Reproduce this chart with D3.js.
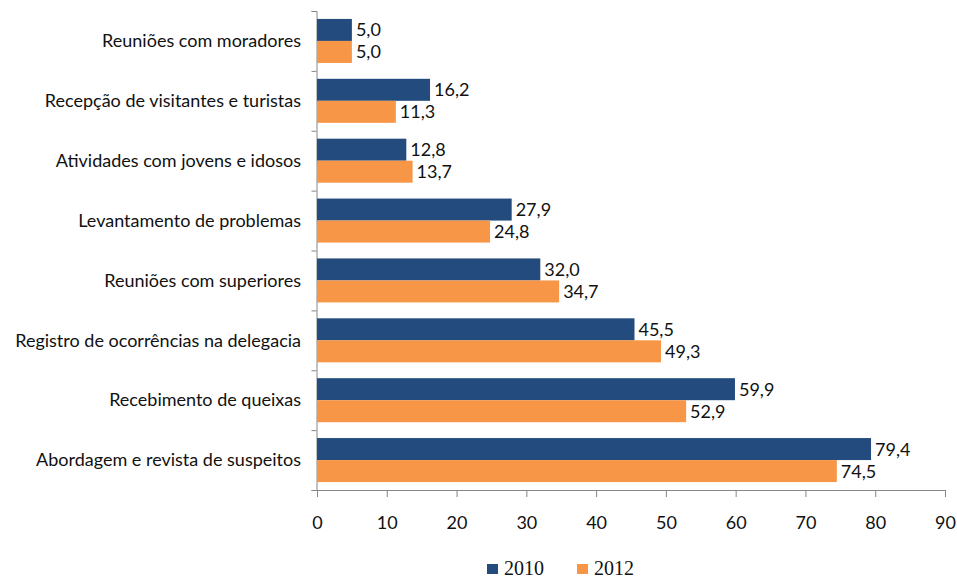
<!DOCTYPE html>
<html>
<head>
<meta charset="utf-8">
<script src="https://cdn.jsdelivr.net/npm/d3@7"></script>
<style>
  body { margin: 0; background: #fff; }
  svg text { font-family: Lato, "Open Sans", sans-serif; }
</style>
</head>
<body>
<div id="chart"></div>
<script>
// categories from top to bottom
const categories = [
  'Reuniões com moradores',
  'Recepção de visitantes e turistas',
  'Atividades com jovens e idosos',
  'Levantamento de problemas',
  'Reuniões com superiores',
  'Registro de ocorrências na delegacia',
  'Recebimento de queixas',
  'Abordagem e revista de suspeitos'
]
const series = ['2010', '2012']
const values2010 = [5.0, 16.2, 12.8, 27.9, 32.0, 45.5, 59.9, 79.4]
const values2012 = [5.0, 11.3, 13.7, 24.8, 34.7, 49.3, 52.9, 74.5]
const xTicks = [0, 10, 20, 30, 40, 50, 60, 70, 80, 90]

const colors = { '2010': '#234B7E', '2012': '#F79646' }

const width = 957
const height = 578
const margin = { left: 317, top: 11, right: 12, bottom: 88 }

const svg = d3.select('#chart').append('svg')
  .attr('width', width)
  .attr('height', height)

const x = d3.scaleLinear()
  .domain([0, 90])
  .range([margin.left, width - margin.right])

const y = d3.scaleBand()
  .domain(categories)
  .range([margin.top, height - margin.bottom])
  .paddingInner(0.265)
  .paddingOuter(0.1325)

const ySub = d3.scaleBand()
  .domain(series)
  .range([0, y.bandwidth()])

// y axis with ticks between categories
const yTickScale = d3.scaleLinear()
  .domain([0, categories.length])
  .range([margin.top, height - margin.bottom])

const yAxis = svg.append('g')
  .attr('transform', `translate(${margin.left - 0.5}, 0)`)
  .call(d3.axisLeft(yTickScale).ticks(categories.length).tickSize(5).tickFormat(''))
yAxis.select('.domain').attr('stroke', '#868686')
yAxis.selectAll('.tick line').attr('stroke', '#868686')

// category labels
svg.append('g')
  .selectAll('text')
  .data(categories)
  .join('text')
  .attr('x', 301)
  .attr('y', d => y(d) + y.bandwidth() / 2)
  .attr('dy', '0.35em')
  .attr('text-anchor', 'end')
  .attr('font-size', 18)
  .attr('fill', '#111')
  .text(d => d)

// x axis
const xAxis = svg.append('g')
  .attr('transform', `translate(0, ${height - margin.bottom})`)
  .call(d3.axisBottom(x).tickValues(xTicks).tickSize(7).tickPadding(19).tickSizeOuter(0))
xAxis.select('.domain').attr('stroke', '#868686')
xAxis.selectAll('.tick line').attr('stroke', '#868686')
xAxis.selectAll('.tick text')
  .attr('font-size', 18)
  .attr('fill', '#111')

// bars
const rows = categories.map((c, i) => ({ category: c, '2010': values2010[i], '2012': values2012[i] }))
const fmt = v => d3.format('.1f')(v).replace('.', ',')

series.forEach(s => {
  svg.append('g')
    .selectAll('rect')
    .data(rows)
    .join('rect')
    .attr('x', x(0))
    .attr('y', d => y(d.category) + ySub(s))
    .attr('width', d => x(d[s]) - x(0))
    .attr('height', ySub.bandwidth())
    .attr('fill', colors[s])

  svg.append('g')
    .selectAll('text')
    .data(rows)
    .join('text')
    .attr('x', d => x(d[s]) + 4)
    .attr('y', d => y(d.category) + ySub(s) + ySub.bandwidth() / 2)
    .attr('dy', '0.36em')
    .attr('font-size', 18)
    .attr('fill', '#111')
    .text(d => fmt(d[s]))
})

// legend
const legendX = [487, 577]
const legend = svg.append('g')
series.forEach((s, i) => {
  legend.append('rect')
    .attr('x', legendX[i])
    .attr('y', 564)
    .attr('width', 11)
    .attr('height', 10)
    .attr('fill', colors[s])
  legend.append('text')
    .attr('x', legendX[i] + 17)
    .attr('y', 575)
    .attr('font-size', 20)
    .style('font-family', '"Liberation Serif", serif')
    .attr('fill', '#111')
    .text(s)
})
</script>
</body>
</html>
